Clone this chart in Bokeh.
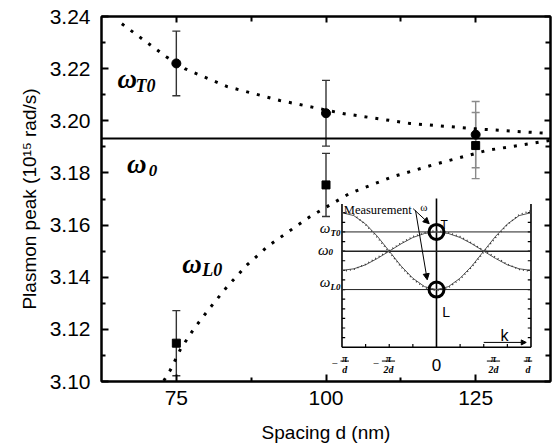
import numpy as np
from bokeh.plotting import figure
from bokeh.models import (Range1d, LinearAxis, FixedTicker, Whisker, TeeHead, ColumnDataSource,
                          Span, Label, Arrow, NormalHead, PrintfTickFormatter, CustomJSTickFormatter)
from bokeh.embed import file_html
from bokeh.resources import INLINE

# ---------------- data ----------------
spacing = [75, 100, 125]
peak_T = [3.2220, 3.2029, 3.1947]
err_T = [0.0124, 0.0126, 0.0127]
peak_L = [3.1147, 3.1754, 3.1905]
err_L = [0.0125, 0.0121, 0.0127]
omega0 = 3.1932

fitT_x = [65.9, 73.3, 76.5, 83.5, 92.3, 102.8, 114.0, 125.1, 137.5]
fitT_y = [3.2372, 3.2246, 3.2199, 3.2131, 3.2078, 3.2028, 3.1990, 3.1969, 3.1951]
fitL_x = [72.9, 74.0, 75.7, 77.9, 80.6, 83.5, 86.8, 90.4, 97.3, 104.0, 111.2, 118.5, 126.8, 137.5]
fitL_y = [3.1003, 3.1044, 3.1124, 3.1201, 3.1282, 3.1364, 3.1447, 3.1521, 3.1632, 3.1722,
          3.1786, 3.1835, 3.1886, 3.1925]

x_ticks = [75, 100, 125]
x_minor = [87.5, 112.5]
y_ticks = [3.10, 3.12, 3.14, 3.16, 3.18, 3.20, 3.22, 3.24]
y_minor = [3.11, 3.13, 3.15, 3.17, 3.19, 3.21, 3.23]

# inset (schematic dispersion), k in units of pi/d, omega in schematic units (omega0 = 0)
inset_k = [-1, -0.875, -0.75, -0.625, -0.5, -0.375, -0.25, -0.125, 0,
           0.125, 0.25, 0.375, 0.5, 0.625, 0.75, 0.875, 1]
inset_T = [-1.0, -0.92, -0.71, -0.38, 0.0, 0.38, 0.71, 0.92, 1.0,
           0.92, 0.71, 0.38, 0.0, -0.38, -0.71, -0.92, -1.0]
inset_L = [2.0, 1.85, 1.41, 0.77, 0.0, -0.77, -1.41, -1.85, -2.0,
           -1.85, -1.41, -0.77, 0.0, 0.77, 1.41, 1.85, 2.0]
inset_T_dot = [-1.05, -0.95, -0.68, -0.32, 0.03, 0.42, 0.76, 0.96, 1.08,
               0.96, 0.76, 0.42, 0.03, -0.32, -0.68, -0.95, -1.05]
inset_L_dot = [2.1, 1.9, 1.38, 0.7, -0.05, -0.82, -1.46, -1.9, -2.06,
               -1.9, -1.46, -0.82, -0.05, 0.7, 1.38, 1.9, 2.1]
inset_levels = [1.0, 0.0, -2.0]          # omega_T0, omega_0, omega_L0
inset_side_ticks = [-4.5, -4.0, -3.5, -3.0, -2.5, -2.0, -1.5, -1.0, -0.5, 0.0, 0.5, 1.0, 1.5, 2.0]
inset_bottom_ticks = [-0.75, -0.5, -0.25, 0.25, 0.5, 0.75]
frac_k = [-0.971, -0.508, 0.603, 0.968]
frac_num = ["π", "π", "π", "π"]
frac_den = ["d", "2d", "2d", "d"]
frac_minus = [True, True, False, False]

# ---------------- figure ----------------
X0, X1, Y0, Y1 = 62.5, 137.5, 3.10, 3.24
p = figure(width=552, height=447, x_range=Range1d(X0, X1), y_range=Range1d(Y0, Y1),
           output_backend="svg", toolbar_location=None,
           min_border_left=101, min_border_right=2, min_border_top=16, min_border_bottom=66)
p.grid.visible = False
p.background_fill_color = "white"
p.border_fill_color = "white"
p.outline_line_color = "black"
p.outline_line_width = 2

FONT = "Liberation Sans"
for ax in (p.xaxis[0], p.yaxis[0]):
    ax.axis_line_width = 2
    ax.major_tick_in = 7
    ax.major_tick_out = 0
    ax.minor_tick_in = 4
    ax.minor_tick_out = 0
    ax.major_tick_line_width = 2
    ax.minor_tick_line_width = 2
    ax.major_label_text_font = FONT
    ax.major_label_text_font_size = "21px"
    ax.major_label_text_color = "black"
    ax.axis_label_text_font = FONT
    ax.axis_label_text_font_size = "19px"
    ax.axis_label_text_font_style = "normal"
    ax.axis_label_text_color = "black"

p.xaxis.ticker = FixedTicker(ticks=x_ticks, minor_ticks=x_minor)
p.yaxis.ticker = FixedTicker(ticks=y_ticks, minor_ticks=y_minor)
p.yaxis.formatter = PrintfTickFormatter(format="%.2f")
p.xaxis.axis_label = "Spacing d (nm)"
p.yaxis.axis_label = "Plasmon peak (10\u00b9\u2075 rad/s)"
p.xaxis.major_label_standoff = 9
p.xaxis.axis_label_standoff = 14
p.yaxis.major_label_standoff = 11
p.yaxis.axis_label_standoff = 7

# top and right axes: ticks only
blank = CustomJSTickFormatter(code="return ''")
top = LinearAxis(ticker=FixedTicker(ticks=x_ticks, minor_ticks=x_minor), formatter=blank)
right = LinearAxis(ticker=FixedTicker(ticks=y_ticks, minor_ticks=y_minor), formatter=blank)
for ax in (top, right):
    ax.major_label_text_font_size = "1px"
    ax.major_label_standoff = 0
    ax.axis_line_width = 2
    ax.major_tick_in = 6
    ax.major_tick_out = 0
    ax.minor_tick_in = 5
    ax.minor_tick_out = 0
    ax.major_tick_line_width = 2
    ax.minor_tick_line_width = 2
p.add_layout(top, "above")
p.add_layout(right, "right")

# omega_0 line
p.add_layout(Span(location=omega0, dimension="width", line_color="black", line_width=2))

# fitted (theory) curves
p.line(fitT_x, fitT_y, line_color="black", line_width=3, line_dash="3 8")
p.line(fitL_x, fitL_y, line_color="black", line_width=3, line_dash="3 8")

# error bars
def add_whiskers(xs, ys, es, color):
    src = ColumnDataSource(dict(base=xs, upper=[y + e for y, e in zip(ys, es)],
                                lower=[y - e for y, e in zip(ys, es)]))
    p.add_layout(Whisker(source=src, base="base", upper="upper", lower="lower",
                         line_color=color, line_width=1.4,
                         upper_head=TeeHead(size=8, line_color=color, line_width=1.4),
                         lower_head=TeeHead(size=8, line_color=color, line_width=1.4)))

add_whiskers(spacing[:2], peak_T[:2], err_T[:2], "#333333")
add_whiskers(spacing[:2], peak_L[:2], err_L[:2], "#333333")
add_whiskers(spacing[2:], peak_T[2:], err_T[2:], "#8a8a8a")
add_whiskers(spacing[2:], peak_L[2:], err_L[2:], "#8a8a8a")

p.scatter(spacing, peak_T, marker="circle", size=9, fill_color="black", line_color="black")
p.scatter(spacing, peak_L, marker="square", size=8, fill_color="black", line_color="black")

# curve labels
SERIF = "Liberation Serif"
def lab(x, y, text, size, style, xr="default", yr="default", align="left", font=SERIF,
        baseline="alphabetic"):
    p.add_layout(Label(x=x, y=y, text=text, text_font=font, text_font_size=size,
                       text_font_style=style, text_align=align, text_baseline=baseline,
                       text_color="black", x_range_name=xr, y_range_name=yr))

lab(65.17, 3.2162, "ω", "27px", "bold italic")
lab(68.18, 3.2135, "T0", "18px", "bold italic")
lab(66.78, 3.1835, "ω", "27px", "bold italic")
lab(70.40, 3.1809, "0", "17px", "bold italic")
lab(75.98, 3.1451, "ω", "27px", "bold italic")
lab(79.32, 3.1426, "L0", "18px", "bold italic")

# ---------------- inset on extra ranges ----------------
# inset k = -1..1 spans x 102.67..134.24; omega unit = 0.00737, omega0 at 3.1500
kx0, kscale = 118.455, 15.785
wy0, wscale = 3.1500, 0.00737
p.extra_x_ranges = {"ik": Range1d((X0 - kx0) / kscale, (X1 - kx0) / kscale)}
p.extra_y_ranges = {"iw": Range1d((Y0 - wy0) / wscale, (Y1 - wy0) / wscale)}
R = dict(x_range_name="ik", y_range_name="iw")

k_lo, k_hi, w_bot, w_top, w_axis_top = -1.0, 1.0, -5.0, 2.45, 2.74
# frame
p.segment(x0=[k_lo, k_hi, k_lo, 0], y0=[w_bot, w_bot, w_bot, w_bot],
          x1=[k_lo, k_hi, k_hi, 0], y1=[w_top, w_top, w_bot, w_axis_top],
          line_color="black", line_width=1.6, **R)
# ticks
tk = 0.034
tw = 0.17
p.segment(x0=[k_lo] * len(inset_side_ticks), y0=inset_side_ticks,
          x1=[k_lo + tk] * len(inset_side_ticks), y1=inset_side_ticks,
          line_color="black", line_width=1.2, **R)
p.segment(x0=[k_hi] * len(inset_side_ticks), y0=inset_side_ticks,
          x1=[k_hi - tk] * len(inset_side_ticks), y1=inset_side_ticks,
          line_color="black", line_width=1.2, **R)
p.segment(x0=inset_bottom_ticks, y0=[w_bot] * len(inset_bottom_ticks),
          x1=inset_bottom_ticks, y1=[w_bot + tw] * len(inset_bottom_ticks),
          line_color="black", line_width=1.2, **R)
# levels
p.segment(x0=[k_lo] * 3, y0=inset_levels, x1=[k_hi] * 3, y1=inset_levels,
          line_color="#222222", line_width=[1, 1.5, 1], **R)
# dispersion curves
p.line(inset_k, inset_T, line_color="#555555", line_width=1, **R)
p.line(inset_k, inset_L, line_color="#555555", line_width=1, **R)
p.line(inset_k, inset_T_dot, line_color="#333333", line_width=1.5, line_dash="1 3", **R)
p.line(inset_k, inset_L_dot, line_color="#333333", line_width=1.5, line_dash="1 3", **R)
# measurement circles
p.scatter([0, 0], [inset_levels[0], inset_levels[2]], marker="circle", size=15,
          fill_color=None, line_color="black", line_width=3, **R)

# inset texts
lab(-0.981, 2.12, "Measurement", "12.5px", "normal", "ik", "iw")
lab(-0.095, 2.29, "ω", "11px", "normal", "ik", "iw", align="right")
lab(0.042, 1.34, "T", "12px", "normal", "ik", "iw", font=FONT)
lab(0.06, -3.18, "L", "14px", "normal", "ik", "iw", font=FONT)
lab(0.677, -4.39, "k", "16px", "normal", "ik", "iw", font=FONT)
lab(0.0, -5.95, "0", "17px", "normal", "ik", "iw", align="center", font=FONT)

lab(-1.122, 1.18, "ω", "15px", "italic", "ik", "iw", align="right")
lab(-1.122, 0.97, "T0", "9px", "bold italic", "ik", "iw")
lab(-1.143, 0.04, "ω", "15px", "italic", "ik", "iw", align="right")
lab(-1.143, -0.07, "0", "9px", "bold italic", "ik", "iw")
lab(-1.122, -1.63, "ω", "15px", "italic", "ik", "iw", align="right")
lab(-1.122, -1.89, "L0", "9px", "bold italic", "ik", "iw")

# fraction tick labels
for kc, num, den, neg in zip(frac_k, frac_num, frac_den, frac_minus):
    lab(kc, -5.59, num, "10px", "bold italic", "ik", "iw", align="center")
    lab(kc, -6.16, den, "10px", "bold italic", "ik", "iw", align="center")
    half = 0.07 if len(den) > 1 else 0.045
    p.segment(x0=[kc - half], y0=[-5.72], x1=[kc + half], y1=[-5.72],
              line_color="black", line_width=1, **R)
    if neg:
        lab(kc - half - 0.03, -5.85, "−", "11px", "normal", "ik", "iw", align="right")

# arrows
for (xs, ys, xe, ye) in [(-0.247, 2.21, -0.077, 1.43), (-0.222, 2.12, -0.098, -1.49)]:
    p.add_layout(Arrow(end=NormalHead(size=6, fill_color="black", line_color="black"),
                       x_start=xs, y_start=ys, x_end=xe, y_end=ye,
                       line_color="black", line_width=1, **R))
p.add_layout(Arrow(end=NormalHead(size=5, fill_color="black", line_color="black"),
                   x_start=0.5, y_start=-4.75, x_end=0.95, y_end=-4.75,
                   line_color="black", line_width=1, **R))

open("out.html", "w").write(file_html(p, INLINE))
